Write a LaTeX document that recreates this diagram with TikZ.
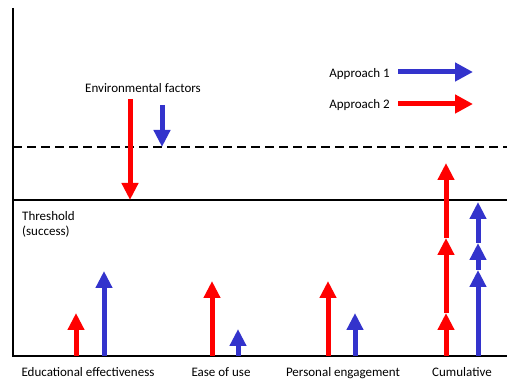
\documentclass[tikz,border=0pt]{standalone}
\usepackage{fontspec}
\setmainfont{Carlito}
\usetikzlibrary{arrows.meta, positioning}
\definecolor{apred}{RGB}{255,0,0}
\definecolor{apblue}{RGB}{51,51,204}

\begin{document}
\begin{tikzpicture}[
        x = 1pt, y = -1pt,
        redpil/.style = {apred, line width=5pt, -{Triangle[width=16pt,length=17pt]}},
        bluepil/.style = {apblue, line width=5pt, -{Triangle[width=16pt,length=17pt]}},
        axis/.style = {black, line width=1.2pt},
        lbl/.style = {inner sep=0pt, font=\fontsize{13}{15}\selectfont},
        catlbl/.style = {inner sep=0pt, font=\fontsize{13}{15}\selectfont, anchor=base}
        ]
        \useasboundingbox (0,0) rectangle (507,379);

        % axes and levels
        \coordinate (top) at (13,8);
        \coordinate (orig) at (13,356);
        \coordinate (xend) at (507,356);
        \coordinate (thrL) at (13,200);
        \coordinate (thrR) at (507,200);
        \coordinate (dashL) at (13,147);
        \coordinate (dashR) at (507,147);
        \draw[axis] (top) -- (orig) -- (xend);
        \draw[black, line width=1.8pt] (thrL) -- (thrR);
        \draw[black, line width=1.6pt, dash pattern=on 9pt off 5pt] (dashL) -- (dashR);

        % labels
        \node[lbl, anchor=base west, align=left] (thr) at (22,236) {Threshold\\(success)};
        \node[lbl, anchor=base] (env) at (143,93) {Environmental factors};
        \node[lbl, anchor=base east] (ap1) at (390,78) {Approach 1};
        \node[lbl, anchor=base east] (ap2) at (390,109) {Approach 2};
        \node[catlbl] (edu) at (88,377) {Educational effectiveness};
        \node[catlbl] (ease) at (221,377) {Ease of use};
        \node[catlbl] (pers) at (343,377) {Personal engagement};
        \node[catlbl] (cum) at (462,377) {Cumulative};

        % legend
        \coordinate (ap1s) at (398,72);
        \coordinate (ap1e) at (473,72);
        \coordinate (ap2s) at (398,104);
        \coordinate (ap2e) at (473,104);
        \draw[bluepil, -{Triangle[width=18pt,length=18pt]}] (ap1s) -- (ap1e);
        \draw[redpil, -{Triangle[width=18pt,length=18pt]}] (ap2s) -- (ap2e);

        % environmental factors
        \coordinate (envr0) at (130,99);
        \coordinate (envr1) at (130,200);
        \coordinate (envb0) at (162,105);
        \coordinate (envb1) at (162,147);
        \draw[redpil] (envr0) -- (envr1);
        \draw[bluepil] (envb0) -- (envb1);

        % single factors
        \coordinate (edur0) at (76,356);   \coordinate (edur1) at (76,313);
        \coordinate (edub0) at (104,356);  \coordinate (edub1) at (104,271);
        \coordinate (easer0) at (212,356); \coordinate (easer1) at (212,281);
        \coordinate (easeb0) at (238,356); \coordinate (easeb1) at (238,329);
        \coordinate (persr0) at (328,356); \coordinate (persr1) at (328,281);
        \coordinate (persb0) at (355,356); \coordinate (persb1) at (355,313);
        \draw[redpil] (edur0) -- (edur1);
        \draw[bluepil] (edub0) -- (edub1);
        \draw[redpil] (easer0) -- (easer1);
        \draw[bluepil] (easeb0) -- (easeb1);
        \draw[redpil] (persr0) -- (persr1);
        \draw[bluepil] (persb0) -- (persb1);

        % cumulative
        \coordinate (cumr0) at (446,356);
        \coordinate (cumr1) at (446,313);
        \coordinate (cumr2) at (446,238);
        \coordinate (cumr3) at (446,163);
        \coordinate (cumb0) at (478,356);
        \coordinate (cumb1) at (478,270);
        \coordinate (cumb2) at (478,243);
        \coordinate (cumb3) at (478,202);
        \draw[redpil] (cumr2) -- (cumr3);
        \draw[redpil] (cumr1) -- (cumr2);
        \draw[redpil] (cumr0) -- (cumr1);
        \draw[bluepil] (cumb2) -- (cumb3);
        \draw[bluepil] (cumb1) -- (cumb2);
        \draw[bluepil] (cumb0) -- (cumb1);
\end{tikzpicture}
\end{document}
